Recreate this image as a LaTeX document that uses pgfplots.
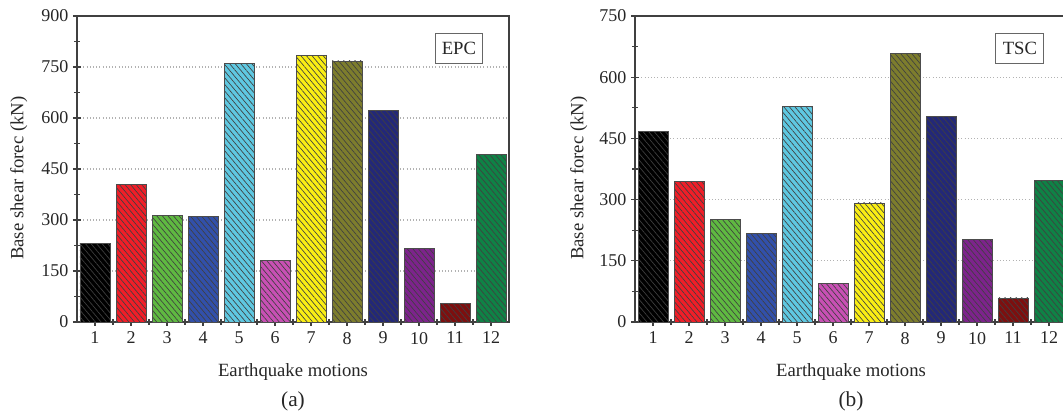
\documentclass[border=0pt]{standalone}
\usepackage{pgfplots}
\pgfplotsset{compat=1.18}
\usetikzlibrary{patterns.meta}
\usepackage{fontspec}
\setmainfont{Liberation Serif}
\definecolor{c1}{RGB}{0,0,0}
\definecolor{c2}{RGB}{240,30,40}
\definecolor{c3}{RGB}{95,185,65}
\definecolor{c4}{RGB}{50,80,170}
\definecolor{c5}{RGB}{95,200,225}
\definecolor{c6}{RGB}{200,80,180}
\definecolor{c7}{RGB}{250,238,20}
\definecolor{c8}{RGB}{125,125,45}
\definecolor{c9}{RGB}{35,40,120}
\definecolor{c10}{RGB}{125,35,140}
\definecolor{c11}{RGB}{125,15,15}
\definecolor{c12}{RGB}{15,130,70}
\pgfplotsset{
  basestyle/.style={
    scale only axis, width=324pt, height=229.5pt,
    clip=false,
    xmin=0.5, xmax=12.5, xtick={1,...,12},
    minor xtick={1.5,2.5,...,11.5},
    ymin=0, minor y tick num=1,
    ybar, bar width=22.5pt, bar shift=0pt,
    axis line style={black!75, line width=1pt},
    every tick/.style={black!75, line width=0.8pt},
    major tick length=6pt, minor tick length=4pt,
    tick align=center,
    xtick pos=bottom, ytick pos=left,
    ymajorgrids, major grid style={dotted, gray!60, line width=0.8pt},
    /pgf/number format/assume math mode=true,
    every tick label/.append style={font=\fontsize{13.5}{15}\selectfont, text=black!85},
    xticklabel style={yshift=-1pt},
    label style={font=\fontsize{14}{16}\selectfont, text=black!85},
    xlabel={Earthquake motions},
    ylabel={Base shear forec (kN)},
    xlabel style={at={(axis description cs:0.5,-0.163)}, anchor=center},
    every axis plot/.append style={draw=black!70, line width=0.5pt,
      postaction={pattern={Lines[angle=-50,distance=3.2pt,line width=0.5pt]}, pattern color=black!75}},
  },
}
\begin{document}
\begin{tikzpicture}
\begin{axis}[basestyle, at={(57.75pt,69pt)}, anchor=south west,
  ymax=900, ytick={0,150,...,900},
  ylabel style={at={(axis description cs:-0.135,0.47)}, anchor=center}]
\addplot[fill=c1] coordinates {(1,230)};
\addplot[fill=c2] coordinates {(2,404)};
\addplot[fill=c3] coordinates {(3,314)};
\addplot[fill=c4] coordinates {(4,311)};
\addplot[fill=c5] coordinates {(5,761)};
\addplot[fill=c6] coordinates {(6,182)};
\addplot[fill=c7] coordinates {(7,783)};
\addplot[fill=c8] coordinates {(8,768)};
\addplot[fill=c9] coordinates {(9,622)};
\addplot[fill=c10] coordinates {(10,217)};
\addplot[fill=c11] coordinates {(11,54)};
\addplot[fill=c12] coordinates {(12,493)};
\node[draw=black!60, line width=0.8pt, fill=white, minimum width=35pt, minimum height=22.5pt, inner sep=0pt, font=\fontsize{14}{16}\selectfont, text=black!85] at (axis description cs:0.884,0.895) {EPC};
\node[font=\fontsize{16}{18}\selectfont, text=black!85] at (axis description cs:0.5,-0.258) {(a)};
\end{axis}
\begin{axis}[basestyle, at={(476.25pt,69pt)}, anchor=south west,
  ymax=750, ytick={0,150,...,750},
  ylabel style={at={(axis description cs:-0.13,0.47)}, anchor=center}]
\addplot[fill=c1] coordinates {(1,468)};
\addplot[fill=c2] coordinates {(2,345)};
\addplot[fill=c3] coordinates {(3,252)};
\addplot[fill=c4] coordinates {(4,217)};
\addplot[fill=c5] coordinates {(5,529)};
\addplot[fill=c6] coordinates {(6,95)};
\addplot[fill=c7] coordinates {(7,292)};
\addplot[fill=c8] coordinates {(8,659)};
\addplot[fill=c9] coordinates {(9,504)};
\addplot[fill=c10] coordinates {(10,202)};
\addplot[fill=c11] coordinates {(11,59)};
\addplot[fill=c12] coordinates {(12,348)};
\node[draw=black!60, line width=0.8pt, fill=white, minimum width=36pt, minimum height=22.5pt, inner sep=0pt, font=\fontsize{14}{16}\selectfont, text=black!85] at (axis description cs:0.891,0.895) {TSC};
\node[font=\fontsize{16}{18}\selectfont, text=black!85] at (axis description cs:0.5,-0.258) {(b)};
\end{axis}
\pgfresetboundingbox
\useasboundingbox (0,0) rectangle (797.25pt,310.5pt);
\end{tikzpicture}
\end{document}
